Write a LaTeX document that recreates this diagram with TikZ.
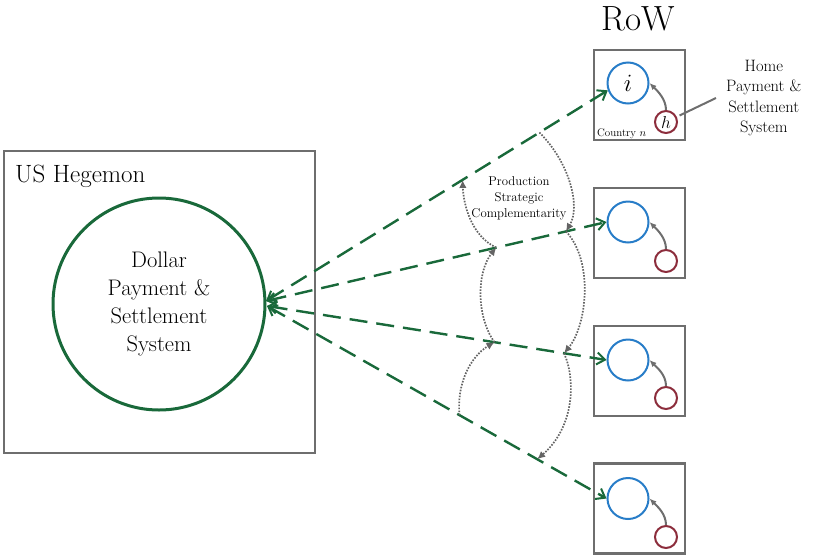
\documentclass[tikz,border=0pt]{standalone}
\usetikzlibrary{arrows.meta}
\definecolor{hgreen}{RGB}{25,105,58}
\definecolor{hblue}{RGB}{40,125,200}
\definecolor{hred}{RGB}{140,45,60}
\definecolor{hgray}{RGB}{110,110,110}
\definecolor{dgray}{RGB}{100,100,100}
\tikzset{
  frame/.style={draw=hgray, line width=2.5pt, inner sep=0pt},
  bluec/.style={circle, draw=hblue, line width=2pt, minimum size=41pt, inner sep=0pt, font=\fontsize{27}{29}\selectfont},
  redc/.style={circle, draw=hred, line width=2pt, minimum size=22pt, inner sep=0pt, font=\fontsize{17}{19}\selectfont},
  garrow/.style={draw=hgreen, line width=2.4pt, dash pattern=on 18pt off 9pt,
    {Straight Barb[length=8pt,width=12pt,line width=2pt]}-{Straight Barb[length=8pt,width=12pt,line width=2pt]}},
  homearrow/.style={draw=hgray, line width=2pt, -{Latex[length=7pt,width=6pt]}},
  dotarrow/.style={draw=dgray, line width=1.7pt, dash pattern=on 1.6pt off 1.4pt, -{Latex[length=8pt,width=7.5pt]}},
}
\begin{document}
\begin{tikzpicture}[x=1pt,y=-1pt]
\useasboundingbox (0,0) rectangle (814,555);

% US Hegemon
\node[frame, minimum width=311pt, minimum height=302pt] (us) at (159.5,302) {};
\node[anchor=base west, inner sep=0pt, font=\fontsize{25}{30}\selectfont] (ustitle) at (15,182) {US Hegemon};
\node[circle, draw=hgreen, line width=3pt, minimum size=212pt, inner sep=0pt, align=center,
      font=\fontsize{22.5}{28}\selectfont] (dollar) at (159,304) {Dollar\\Payment \&\\Settlement\\System};

% RoW
\node[anchor=base, inner sep=0pt, font=\fontsize{35}{40}\selectfont] (row) at (638,30) {RoW};

\node[frame, minimum width=91pt, minimum height=90pt] (box1) at (639.5,95) {};
\node[frame, minimum width=91pt, minimum height=90pt] (box2) at (639.5,233) {};
\node[frame, minimum width=91pt, minimum height=90pt] (box3) at (639.5,371) {};
\node[frame, minimum width=91pt, minimum height=90pt] (box4) at (639.5,508.5) {};

\node[bluec] (b1) at (628,83) {$i$};
\node[bluec] (b2) at (628,222) {};
\node[bluec] (b3) at (628,360) {};
\node[bluec] (b4) at (628,498.5) {};

\node[redc] (r1) at (666,122) {$h$};
\node[redc] (r2) at (666,261) {};
\node[redc] (r3) at (666,398) {};
\node[redc] (r4) at (666,537) {};

\foreach \k in {1,2,3,4}{
  \draw[homearrow] (r\k.north) .. controls +(0,-11) and +(8,8) .. (b\k.east);
}

\node[anchor=base west, inner sep=0pt, font=\fontsize{11}{13}\selectfont] (cn) at (597,136) {Country $n$};

\node[anchor=west, inner xsep=10pt, align=center, font=\fontsize{16.5}{20.5}\selectfont] (home) at (716,98) {Home\\Payment \&\\Settlement\\System};
\draw[draw=hgray, line width=2pt, shorten <=3pt] (r1) -- (home.west);

% green connectors
\coordinate (hubU) at (266,301);
\coordinate (hubL) at (267,306);
\draw[garrow] (hubU) -- (b1.200);
\draw[garrow] (hubU) -- (b2.west);
\draw[garrow] (hubL) -- (b3.west);
\draw[garrow] (hubL) -- (b4.west);

\path (hubU) -- (b1.200) coordinate[pos=0.575] (l1a) coordinate[pos=0.8] (l1b);
\path (hubU) -- (b2.west) coordinate[pos=0.676] (l2a) coordinate[pos=0.881] (l2b);
\path (hubL) -- (b3.west) coordinate[pos=0.67] (l3a) coordinate[pos=0.875] (l3b);
\path (hubL) -- (b4.west) coordinate[pos=0.567] (l4a) coordinate[pos=0.796] (l4b);

% production strategic complementarity
\draw[dotarrow] (l1b) .. controls +(30,30) and +(15,-25) .. (l2b);
\draw[dotarrow] (l2b) .. controls +(28,30) and +(23,-28) .. (l3b);
\draw[dotarrow] (l3b) .. controls +(12,27) and +(37,-32) .. (l4b);
\draw[dotarrow] (l4a) .. controls +(-3,-30) and +(-25,15) .. (l3a);
\draw[dotarrow] (l3a) .. controls +(-18,-25) and +(-20,25) .. (l2a);
\draw[dotarrow] (l2a) .. controls +(-25,-12) and +(1,25) .. (l1a);

\node[align=center, inner sep=0pt, font=\fontsize{12.8}{16}\selectfont] (psc) at (519,198) {Production\\Strategic\\Complementarity};
\end{tikzpicture}
\end{document}
